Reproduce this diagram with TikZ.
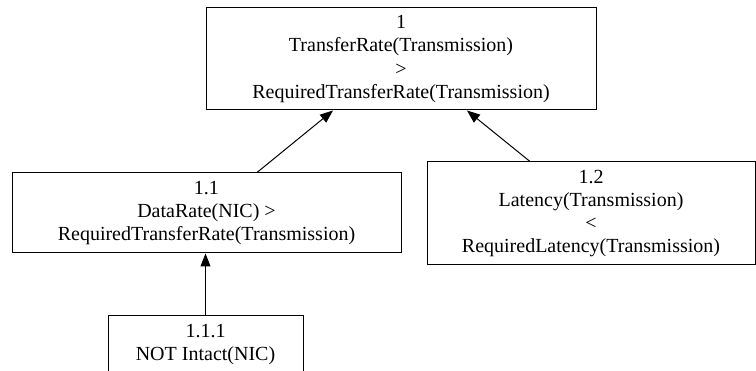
\documentclass[tikz,border=0pt]{standalone}
\usepackage{fontspec}
\setmainfont{Liberation Serif}
\usetikzlibrary{arrows.meta}
\begin{document}
\begin{tikzpicture}[x=1pt,y=-1pt,
  goalbox/.style={draw=black,line width=1pt,rectangle,inner sep=0pt,align=center,
    font=\fontsize{20}{23.3}\selectfont},
  arr/.style={draw=black,line width=1pt,-{Triangle[length=13pt,width=10pt]}}]
\useasboundingbox (0,0) rectangle (756,371);
\node[goalbox,minimum width=390,minimum height=102] (n1) at (401,59)
  {1\\TransferRate(Transmission)\\>\\RequiredTransferRate(Transmission)};
\node[goalbox,minimum width=389,minimum height=80] (n11) at (206.5,213)
  {1.1\\DataRate(NIC) >\\RequiredTransferRate(Transmission)};
\node[goalbox,minimum width=328,minimum height=103] (n12) at (591,213.5)
  {1.2\\Latency(Transmission)\\<\\RequiredLatency(Transmission)};
\node[goalbox,minimum width=195,minimum height=57] (n111) at (205.5,344.5)
  {1.1.1\\NOT Intact(NIC)};
\draw[arr] ([xshift=50.5pt]n11.north) -- ([xshift=-68pt]n1.south);
\draw[arr] ([xshift=-61pt]n12.north) -- ([xshift=66pt]n1.south);
\draw[arr] (n111.north) -- (n111.north |- n11.south);
\end{tikzpicture}
\end{document}
